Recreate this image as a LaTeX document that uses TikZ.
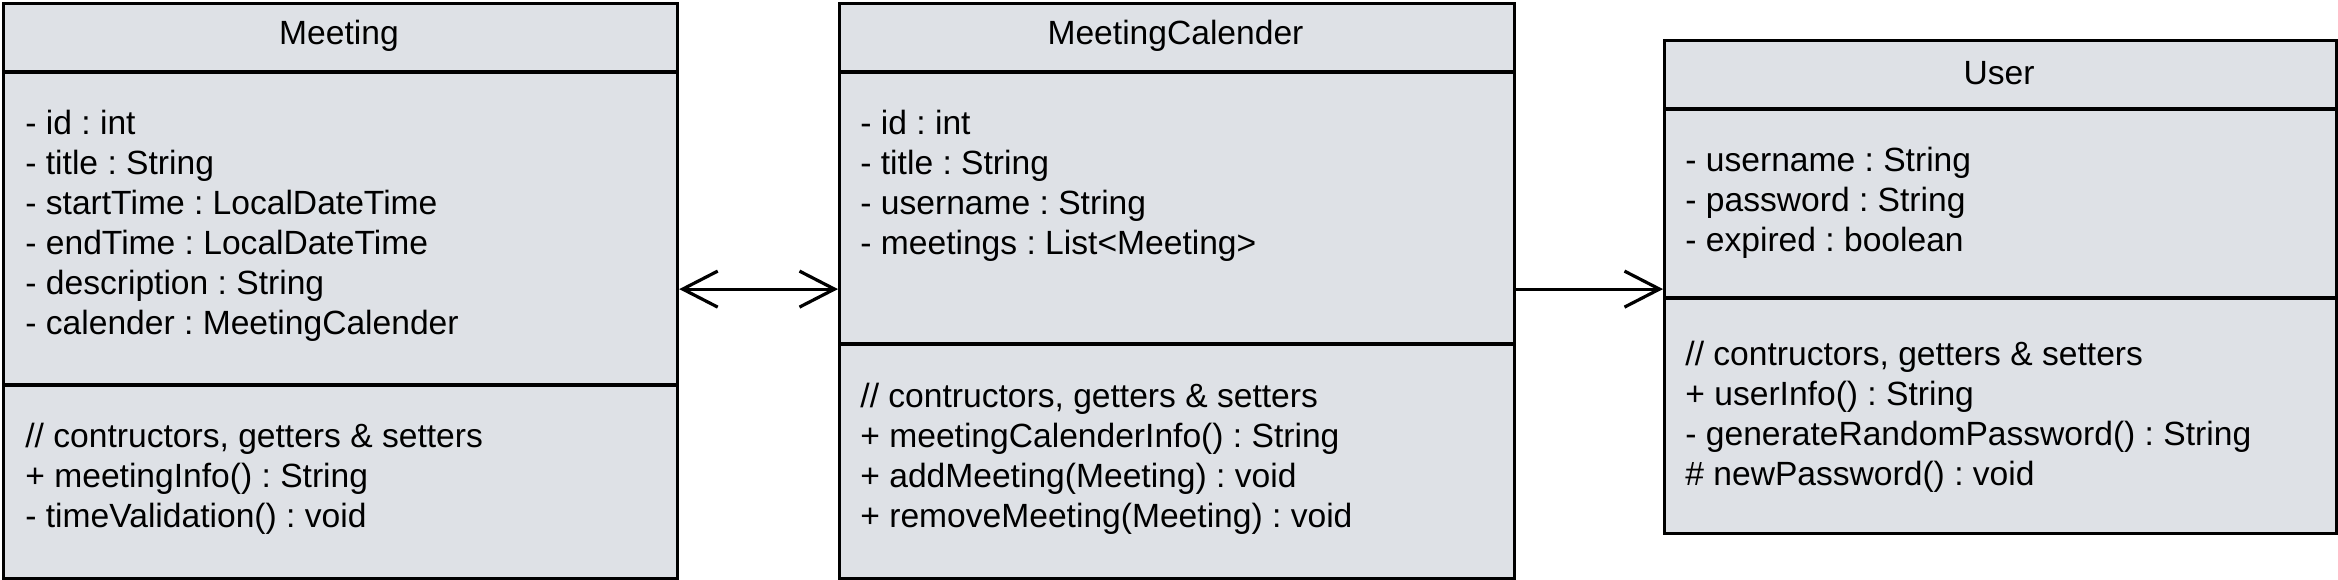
\documentclass[tikz,border=0pt]{standalone}
\usepackage{fontspec}
\setmainfont{Liberation Sans}
\usetikzlibrary{arrows.meta}
\definecolor{boxfill}{RGB}{222,225,230}
\frenchspacing
\begin{document}
\begin{tikzpicture}[x=0.5pt,y=-0.5pt,
  classbox/.style={draw=black, fill=boxfill, line width=1.6pt, inner sep=0pt, anchor=north west},
  divider/.style={draw=black, line width=1.6pt},
  txt/.style={anchor=west, align=left, inner sep=0pt, font=\fontsize{16.8pt}{20pt}\selectfont},
  ttl/.style={anchor=center, inner sep=0pt, font=\fontsize{16.8pt}{20pt}\selectfont},
  conn/.style={draw=black, line width=1.6pt},
  barb/.tip={Straight Barb[length=17.5pt, width=18pt, line width=1.6pt]}]
\useasboundingbox (0,0) rectangle (2338,579);
% boxes
\node[classbox, minimum width=337pt, minimum height=287.5pt] (meeting) at (2,2) {};
\node[classbox, minimum width=337.5pt, minimum height=287.5pt] (mc) at (838,2) {};
\node[classbox, minimum width=336pt, minimum height=246.5pt] (user) at (1663,39) {};
% dividers
\draw[divider] (2,72) -- (676,72);
\draw[divider] (2,385) -- (676,385);
\draw[divider] (838,72) -- (1513,72);
\draw[divider] (838,344) -- (1513,344);
\draw[divider] (1663,109) -- (2335,109);
\draw[divider] (1663,298) -- (2335,298);
% titles
\node[ttl] (meetingTitle) at (339,36) {Meeting};
\node[ttl] (mcTitle) at (1175.5,36) {MeetingCalender};
\node[ttl] (userTitle) at (1999,73) {User};
% Meeting text
\node[txt] (meetingAttr) at (25,226) {- id : int\\- title : String\\- startTime : LocalDateTime\\- endTime : LocalDateTime\\- description : String\\- calender : MeetingCalender};
\node[txt] (meetingOps) at (25,478.5) {// contructors, getters \& setters\\+ meetingInfo() : String\\- timeValidation() : void};
% MeetingCalender text
\node[txt] (mcAttr) at (860,185.5) {- id : int\\- title : String\\- username : String\\- meetings : List<Meeting>};
\node[txt] (mcOps) at (860,458.5) {// contructors, getters \& setters\\+ meetingCalenderInfo() : String\\+ addMeeting(Meeting) : void\\+ removeMeeting(Meeting) : void};
% User text
\node[txt] (userAttr) at (1685,203) {- username : String\\- password : String\\- expired : boolean};
\node[txt] (userOps) at (1685,416.5) {// contructors, getters \& setters\\+ userInfo() : String\\- generateRandomPassword() : String\\\# newPassword() : void};
% connectors
\draw[conn, barb-barb] ([yshift=1pt]meeting.east) -- ([yshift=1pt]mc.west);
\draw[conn, -barb] ([yshift=1pt]mc.east) -- ([yshift=1pt]mc.east -| user.west);
\end{tikzpicture}
\end{document}
